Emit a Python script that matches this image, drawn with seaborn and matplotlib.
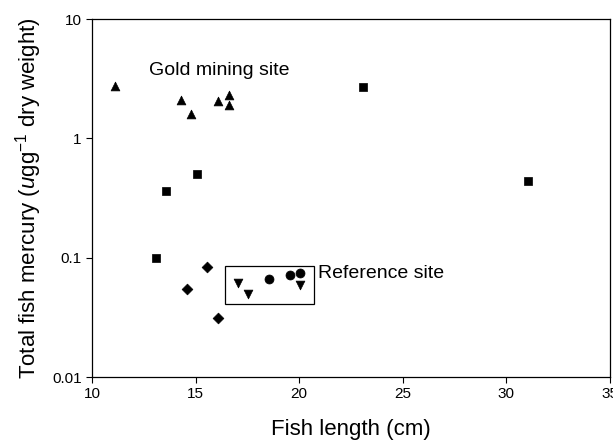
import pandas as pd
import matplotlib
matplotlib.use("Agg")
import matplotlib.pyplot as plt
import seaborn as sns
from matplotlib.patches import Rectangle

# values (length cm, Hg ug/g dry weight)
tri_up_x = [11.1, 14.3, 14.8, 16.1, 16.6, 16.6]
tri_up_y = [2.74, 2.08, 1.60, 2.06, 2.32, 1.91]
square_x = [13.07, 13.58, 15.09, 23.1, 31.06]
square_y = [0.100, 0.36, 0.50, 2.69, 0.44]
diamond_x = [14.58, 15.57, 16.06]
diamond_y = [0.055, 0.084, 0.031]
tri_down_x = [17.05, 17.54, 20.04]
tri_down_y = [0.061, 0.0495, 0.059]
circle_x = [18.56, 19.55, 20.04]
circle_y = [0.066, 0.071, 0.074]

x_ticks = [10, 15, 20, 25, 30, 35]
y_ticks = [0.01, 0.1, 1, 10]
y_ticklabels = ["0.01", "0.1", "1", "10"]

groups = [("tri_up", tri_up_x, tri_up_y), ("square", square_x, square_y),
          ("diamond", diamond_x, diamond_y), ("tri_down", tri_down_x, tri_down_y),
          ("circle", circle_x, circle_y)]
rows = []
for name, xs, ys in groups:
    for x, y in zip(xs, ys):
        rows.append({"length": x, "hg": y, "group": name})
df = pd.DataFrame(rows)

sns.set_style("ticks")
plt.rcParams["font.family"] = ["Liberation Sans", "DejaVu Sans"]
plt.rcParams["mathtext.fontset"] = "custom"
plt.rcParams["mathtext.rm"] = "Liberation Sans"
plt.rcParams["mathtext.it"] = "Liberation Sans:italic"
plt.rcParams["text.color"] = "black"
plt.rcParams["axes.labelcolor"] = "black"
plt.rcParams["xtick.color"] = "black"
plt.rcParams["ytick.color"] = "black"

fig = plt.figure(figsize=(6.13, 4.42), dpi=100)
ax = fig.add_axes([0.150, 0.147, 0.845, 0.810])

markers = {"tri_up": "^", "square": "s", "diamond": "D", "tri_down": "v", "circle": "o"}
sizes = {"tri_up": 40, "square": 36, "diamond": 30, "tri_down": 40, "circle": 42}
for name, m in markers.items():
    sub = df[df["group"] == name]
    sns.scatterplot(data=sub, x="length", y="hg", marker=m, s=sizes[name],
                    color="black", edgecolor="black", linewidth=0.5, ax=ax, legend=False)

ax.set_yscale("log")
ax.set_xlim(10, 35)
ax.set_ylim(0.01, 10)
ax.set_xticks(x_ticks)
ax.set_yticks(y_ticks)
ax.set_yticklabels(y_ticklabels)
ax.minorticks_off()
ax.tick_params(labelsize=11, length=4, width=0.8)
for sp in ax.spines.values():
    sp.set_visible(True)
    sp.set_color("black")
    sp.set_linewidth(0.9)

ax.add_patch(Rectangle((16.44, 0.041), 20.7 - 16.44, 0.086 - 0.041,
                       fill=False, edgecolor="black", linewidth=0.9))
ax.text(12.75, 3.7, "Gold mining site", fontsize=14, va="center", ha="left")
ax.text(20.9, 0.074, "Reference site", fontsize=14, va="center", ha="left")

ax.set_xlabel("Fish length (cm)", fontsize=16, labelpad=13)
ax.set_ylabel(r"Total fish mercury ($\mathit{u}$gg$^{-1}$ dry weight)", fontsize=16, labelpad=6)

fig.savefig("out.png", dpi=100)
